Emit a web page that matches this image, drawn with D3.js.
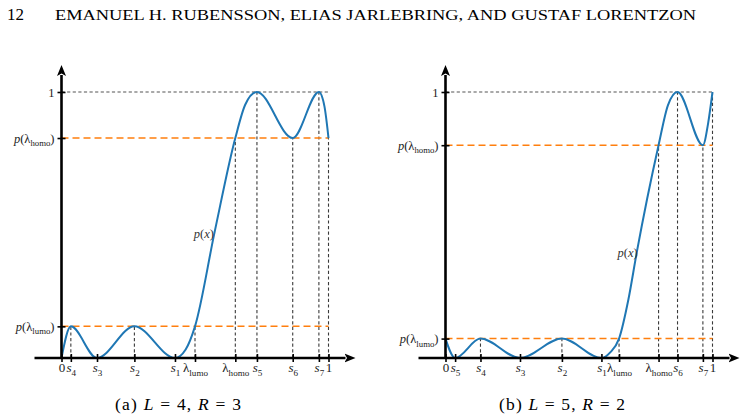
<!DOCTYPE html>
<html>
<head>
<meta charset="utf-8">
<script src="https://cdn.jsdelivr.net/npm/d3@7"></script>
<style>
  body { margin: 0; background: #fff; }
  svg { display: block; }
  svg text { font-family: 'Liberation Serif', 'DejaVu Serif', serif; }
</style>
</head>
<body>
<div id="chart"></div>
<script>
// panel (a): L = 4, R = 3
const tickNamesA = ["0", "s_4", "s_3", "s_2", "s_1", "λ_lumo", "λ_homo", "s_5", "s_6", "s_7", "1"];
const tickValuesA = [0, 0.035, 0.133, 0.273, 0.425, 0.5, 0.651, 0.732, 0.866, 0.964, 1];
const guideTopA = [0, 0.119, 0, 0.119, 0, 0.119, 0.827, 1, 0.827, 1, 0.827];
const levelNamesA = ["p(λ_lumo)", "p(λ_homo)", "1"];
const levelValuesA = [0.119, 0.827, 1];
const curveXA = [0, 0.035, 0.133, 0.273, 0.425, 0.465, 0.5, 0.574, 0.651, 0.688, 0.732, 0.866, 0.964, 0.985, 1];
const curveYA = [0, 0.119, 0, 0.119, 0, 0.032, 0.119, 0.476, 0.827, 0.952, 1, 0.827, 1, 0.945, 0.827];

// panel (b): L = 5, R = 2
const tickNamesB = ["0", "s_5", "s_4", "s_3", "s_2", "s_1", "λ_lumo", "λ_homo", "s_6", "s_7", "1"];
const tickValuesB = [0, 0.036, 0.131, 0.279, 0.436, 0.584, 0.65, 0.798, 0.869, 0.964, 1];
const guideTopB = [0, 0, 0.073, 0, 0.073, 0, 0.073, 0.8, 1, 0.8, 1];
const levelNamesB = ["p(λ_lumo)", "p(λ_homo)", "1"];
const levelValuesB = [0.073, 0.8, 1];
const curveXB = [0, 0.036, 0.131, 0.279, 0.436, 0.584, 0.617, 0.65, 0.685, 0.716, 0.798, 0.833, 0.869, 0.964, 0.984, 1];
const curveYB = [0.073, 0, 0.073, 0, 0.073, 0, 0.021, 0.073, 0.22, 0.395, 0.8, 0.95, 1, 0.8, 0.885, 1];

const captions = ["(a) _L_ = 4, _R_ = 3", "(b) _L_ = 5, _R_ = 2"];
const pageNumber = "12";
const runningHead = "EMANUEL H. RUBENSSON, ELIAS JARLEBRING, AND GUSTAF LORENTZON";

const width = 745;
const height = 420;

const svg = d3.select("#chart")
  .append("svg")
  .attr("width", width)
  .attr("height", height);

svg.append("defs")
  .append("marker")
  .attr("id", "arrow")
  .attr("markerUnits", "userSpaceOnUse")
  .attr("viewBox", "0 -5 11 10")
  .attr("refX", 1)
  .attr("refY", 0)
  .attr("markerWidth", 11)
  .attr("markerHeight", 10)
  .attr("orient", "auto")
  .append("path")
  .attr("d", "M0,-4.5L11,0L0,4.5L2.5,0Z")
  .attr("fill", "#000");

// running head
svg.append("text")
  .attr("x", 7)
  .attr("y", 20)
  .style("font-size", "17px")
  .text(pageNumber);

svg.append("text")
  .attr("x", 55)
  .attr("y", 20)
  .attr("textLength", 641)
  .attr("lengthAdjust", "spacingAndGlyphs")
  .style("font-size", "14.5px")
  .text(runningHead);

// writes "p(λ_homo)" style labels: latin letters italic, part after "_" as subscript
function mathLabel(text, label, size) {
  const m = label.match(/^(.*?)_(\w+)(.*)$/);
  const base = m ? m[1] : label;
  base.split("").forEach((ch) => {
    text.append("tspan")
      .style("font-style", /[a-z]/.test(ch) ? "italic" : "normal")
      .text(ch);
  });
  if (m) {
    text.append("tspan")
      .attr("dy", size * 0.28)
      .style("font-size", size * 0.7 + "px")
      .text(m[2]);
    if (m[3]) {
      text.append("tspan")
        .attr("dy", -size * 0.28)
        .text(m[3]);
    }
  }
}

function drawPanel(opt) {
  const x = d3.scaleLinear().domain([0, 1]).range(opt.xRange);
  const y = d3.scaleLinear().domain([0, 1]).range([358, 92]);
  const g = svg.append("g");
  const ticks = opt.tickValues.map((v, i) => ({ v, name: opt.tickNames[i], top: opt.guideTop[i] }));
  const levels = opt.levelValues.map((v, i) => ({ v, name: opt.levelNames[i] }));

  // vertical guides from the axis up to the curve
  g.append("g")
    .selectAll("line")
    .data(ticks.filter((d) => d.top > 0))
    .join("line")
    .attr("x1", (d) => x(d.v))
    .attr("x2", (d) => x(d.v))
    .attr("y1", y(0))
    .attr("y2", (d) => y(d.top))
    .attr("stroke", "#3a3a3a")
    .attr("stroke-width", 1.1)
    .attr("stroke-dasharray", "3.2,2.4");

  // horizontal levels
  g.append("g")
    .selectAll("line")
    .data(levels)
    .join("line")
    .attr("x1", x(0))
    .attr("x2", x(1))
    .attr("y1", (d) => y(d.v))
    .attr("y2", (d) => y(d.v))
    .attr("stroke", (d) => (d.v === 1 ? "#555" : "#ff7f0e"))
    .attr("stroke-width", (d) => (d.v === 1 ? 1.1 : 1.5))
    .attr("stroke-dasharray", (d) => (d.v === 1 ? "3.2,2.4" : "7,4"));

  // the polynomial
  const pts = opt.curveX.map((v, i) => [v, opt.curveY[i]]);
  g.append("path")
    .datum(pts)
    .attr("fill", "none")
    .attr("stroke", "#1f77b4")
    .attr("stroke-width", 2)
    .attr("d", d3.line().x((d) => x(d[0])).y((d) => y(d[1])).curve(d3.curveMonotoneX));

  const lbl = g.append("text")
    .attr("x", x(opt.pxLabel[0]))
    .attr("y", y(opt.pxLabel[1]))
    .attr("text-anchor", "end")
    .attr("fill", "#333")
    .style("font-size", "12.5px");
  mathLabel(lbl, "p(x)", 12.5);

  // x axis
  g.append("line")
    .attr("x1", x(0) - 27)
    .attr("x2", x(1) + 17)
    .attr("y1", y(0))
    .attr("y2", y(0))
    .attr("stroke", "#000")
    .attr("stroke-width", 2.6)
    .attr("marker-end", "url(#arrow)");

  const xAxis = g.append("g")
    .attr("transform", `translate(0,${y(0)})`)
    .call(d3.axisBottom(x).tickValues(opt.tickValues).tickSize(4).tickFormat(""));
  xAxis.select(".domain").remove();
  xAxis.selectAll(".tick line")
    .attr("y1", -4)
    .attr("stroke", "#000")
    .attr("stroke-width", 1.6);
  xAxis.selectAll(".tick text").remove();
  xAxis.selectAll(".tick")
    .data(ticks)
    .append("text")
    .attr("y", 14)
    .attr("fill", "#222")
    .attr("text-anchor", "middle")
    .style("font-size", "13px")
    .each(function (d) {
      mathLabel(d3.select(this), d.name, 13);
    });

  // y axis
  g.append("line")
    .attr("x1", x(0))
    .attr("x2", x(0))
    .attr("y1", y(0) + 1)
    .attr("y2", y(1) - 17)
    .attr("stroke", "#000")
    .attr("stroke-width", 2.6)
    .attr("marker-end", "url(#arrow)");

  const yAxis = g.append("g")
    .attr("transform", `translate(${x(0)},0)`)
    .call(d3.axisLeft(y).tickValues(opt.levelValues).tickSize(4).tickFormat(""));
  yAxis.select(".domain").remove();
  yAxis.selectAll(".tick line")
    .attr("x1", 4)
    .attr("stroke", "#000")
    .attr("stroke-width", 1.6);
  yAxis.selectAll(".tick text").remove();
  yAxis.selectAll(".tick")
    .data(levels)
    .append("text")
    .attr("x", -7)
    .attr("dy", "0.32em")
    .attr("fill", "#222")
    .attr("text-anchor", "end")
    .style("font-size", "12.5px")
    .each(function (d) {
      mathLabel(d3.select(this), d.name, 12.5);
    });

  // caption
  const cap = g.append("text")
    .attr("x", opt.captionX)
    .attr("y", 410)
    .attr("text-anchor", "middle")
    .attr("textLength", 126)
    .attr("lengthAdjust", "spacing")
    .style("font-size", "17.5px");
  opt.caption.split("_").forEach((part, i) => {
    cap.append("tspan")
      .style("font-style", i % 2 ? "italic" : "normal")
      .text(part);
  });
}

drawPanel({
  xRange: [61.5, 328.5],
  tickNames: tickNamesA,
  tickValues: tickValuesA,
  guideTop: guideTopA,
  levelNames: levelNamesA,
  levelValues: levelValuesA,
  curveX: curveXA,
  curveY: curveYA,
  pxLabel: [0.571, 0.451],
  caption: captions[0],
  captionX: 178
});

drawPanel({
  xRange: [445.5, 712.5],
  tickNames: tickNamesB,
  tickValues: tickValuesB,
  guideTop: guideTopB,
  levelNames: levelNamesB,
  levelValues: levelValuesB,
  curveX: curveXB,
  curveY: curveYB,
  pxLabel: [0.72, 0.38],
  caption: captions[1],
  captionX: 562
});
</script>
</body>
</html>
